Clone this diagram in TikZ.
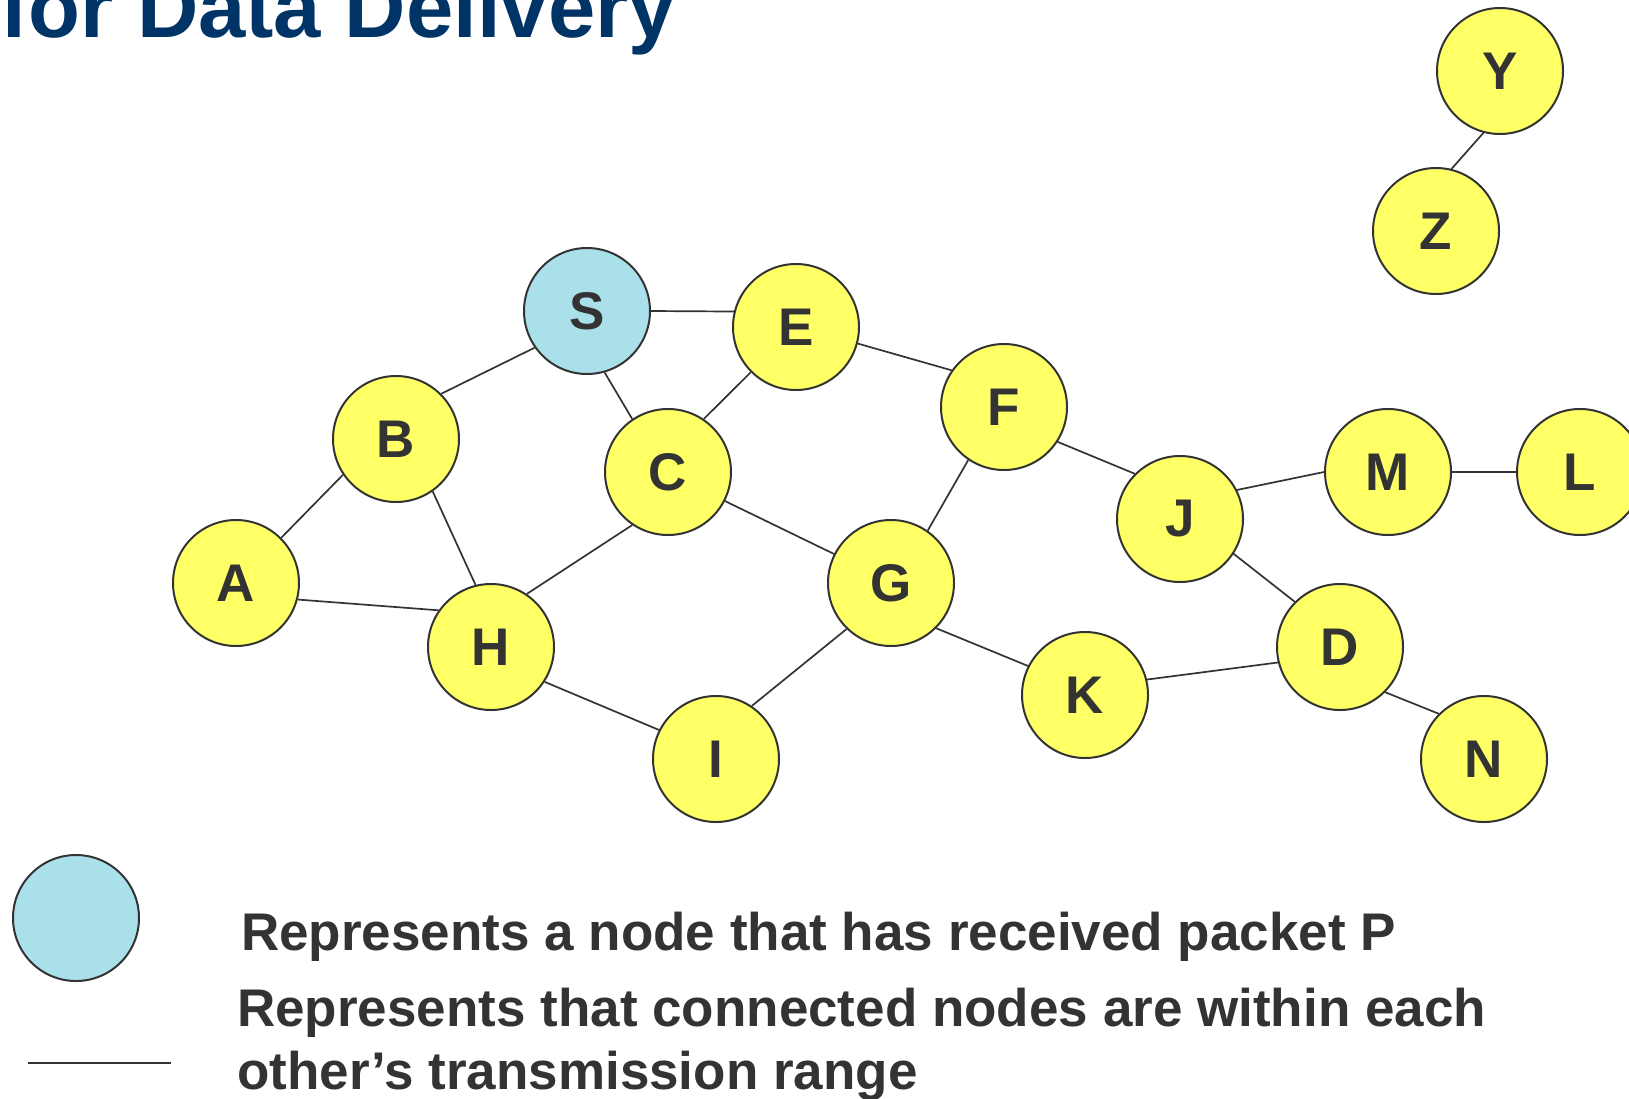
\documentclass[tikz,border=0pt]{standalone}
\usepackage{fontspec}
\setmainfont{Liberation Sans}
\definecolor{titleblue}{RGB}{0,51,102}
\definecolor{inkgray}{RGB}{51,51,51}
\definecolor{hostyellow}{RGB}{255,255,102}
\definecolor{gotcyan}{RGB}{170,224,234}
\begin{document}
\begin{tikzpicture}[x=1pt,y=-1pt]
\tikzstyle{every node}+=[inner sep=0pt]
\tikzstyle{host}=[circle,draw=inkgray,line width=2pt,fill=hostyellow,minimum size=126pt,text=inkgray,font=\fontsize{53}{60}\selectfont\bfseries]
\tikzstyle{got}=[host,fill=gotcyan]
\tikzstyle{link}=[draw=inkgray,line width=1.7pt]
\tikzstyle{legend}=[anchor=base west,text=inkgray,font=\fontsize{53}{63}\selectfont\bfseries]
\useasboundingbox (0,0) rectangle (1629,1098);
\node [anchor=base west,text=titleblue,font=\fontsize{85}{90}\selectfont\bfseries] (title) at (0,37) {for Data Delivery};
\node [host] (Y) at (1500,71) {Y};
\node [host] (Z) at (1436,231) {Z};
\node [got] (S) at (587,311) {S};
\node [host] (E) at (796,327) {E};
\node [host] (F) at (1004,407) {F};
\node [host] (B) at (396,439) {B};
\node [host] (C) at (668,472) {C};
\node [host] (M) at (1388,472) {M};
\node [host] (L) at (1580,472) {L};
\node [host] (J) at (1180,519) {J};
\node [host] (A) at (236,583) {A};
\node [host] (G) at (891,583) {G};
\node [host] (H) at (491,647) {H};
\node [host] (D) at (1340,647) {D};
\node [host] (K) at (1085,695) {K};
\node [host] (I) at (716,759) {I};
\node [host] (N) at (1484,759) {N};
\draw [link] (Y.255) -- (Z.76);
\draw [link] (S.0) -- (E.166);
\draw [link] (S.215) -- (B.45);
\draw [link] (S.286) -- (C.124);
\draw [link] (E.225) -- (C.56);
\draw [link] (E.345) -- (F.145);
\draw [link] (B.214) -- (A.45);
\draw [link] (B.305) -- (H.104);
\draw [link] (A.345) -- (H.145);
\draw [link] (C.236) -- (H.56);
\draw [link] (C.333) -- (G.153);
\draw [link] (F.236) -- (G.55);
\draw [link] (F.327) -- (J.135);
\draw [link] (J.27) -- (M.180);
\draw [link] (M.0) -- (L.180);
\draw [link] (J.327) -- (D.135);
\draw [link] (G.315) -- (K.153);
\draw [link] (G.226) -- (I.56);
\draw [link] (H.327) -- (I.153);
\draw [link] (K.14) -- (D.194);
\draw [link] (D.315) -- (N.135);
\node [got] (key) at (76,918) {};
\node [legend] (keytext) at (241,950) {Represents a node that has received packet P};
\coordinate (k1) at (28,1063);
\coordinate (k2) at (171,1063);
\draw [link] (k1) -- (k2);
\node [legend] (linktext) at (237,1026) {Represents that connected nodes are within each};
\node [legend] (linktext2) at (237,1089) {other’s transmission range};
\end{tikzpicture}
\end{document}
